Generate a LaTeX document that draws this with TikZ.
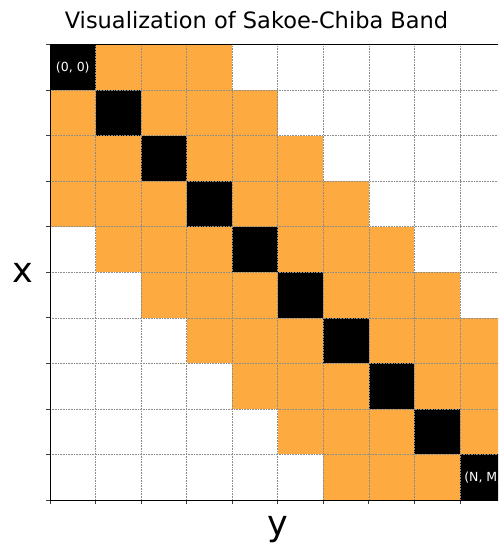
\documentclass[tikz,border=0pt]{standalone}
\usepackage{fontspec}
\setmainfont{DejaVu Sans}
\usepackage{tikz}
\usetikzlibrary{
    positioning,
    calc
}
\tikzset{
  band/.style    = {fill=BandOrange, draw=none},
  diag/.style    = {fill=black, draw=none},
  gridln/.style  = {GridGray, densely dotted, line width=0.6pt},
  spine/.style   = {black, line width=0.9pt},
  axtick/.style  = {TickGray, line width=0.8pt},
  cellnum/.style = {white, font=\fontsize{12.5}{15}\selectfont},
  axlabel/.style = {font=\fontsize{35}{40}\selectfont}
}
\definecolor{BandOrange}{RGB}{253,170,64}
\definecolor{GridGray}{RGB}{140,140,140}
\definecolor{TickGray}{RGB}{60,60,60}

\begin{document}
\begin{tikzpicture}[x=1pt, y=-1pt]
\useasboundingbox (0,0) rectangle (498,545);
\clip (0,0) rectangle (498,545);
% band cells, |i-j| <= 3
\foreach \i in {0,...,9}{
  \foreach \j in {0,...,9}{
    \pgfmathtruncatemacro\dd{abs(\i-\j)}
    \ifnum\dd=0
      \fill[diag] ({50+\j*45.55},{44.5+\i*45.55}) rectangle ++(45.55,45.55);
    \else\ifnum\dd<4
      \fill[band] ({50+\j*45.55},{44.5+\i*45.55}) rectangle ++(45.55,45.55);
    \fi\fi
  }
}
% grid
\foreach \k in {1,...,10}{
  \draw[gridln] ({50+\k*45.55},44.5) -- ({50+\k*45.55},500);
}
\foreach \k in {1,...,9}{
  \draw[gridln] (50,{44.5+\k*45.55}) -- (510,{44.5+\k*45.55});
}
% ticks
\foreach \k in {0,...,10}{
  \draw[axtick] (46,{44.5+\k*45.55}) -- (50,{44.5+\k*45.55});
  \draw[axtick] ({50+\k*45.55},500) -- ({50+\k*45.55},504);
}
% spines
\draw[spine] (510,44.5) -- (50,44.5) -- (50,500) -- (510,500);
\node[cellnum] (start) at (72.8,67.8) {(0, 0)};
\node[cellnum] (finish) at (483.2,477.7) {(N, M)};
\node[font=\fontsize{22.5}{27}\selectfont, anchor=base] (title) at (256.5,29) {Visualization of Sakoe-Chiba Band};
\node[axlabel] (xlab) at (22.5,272.5) {x};
\node[axlabel] (ylab) at (278,529.5) {y};
\end{tikzpicture}
\end{document}
